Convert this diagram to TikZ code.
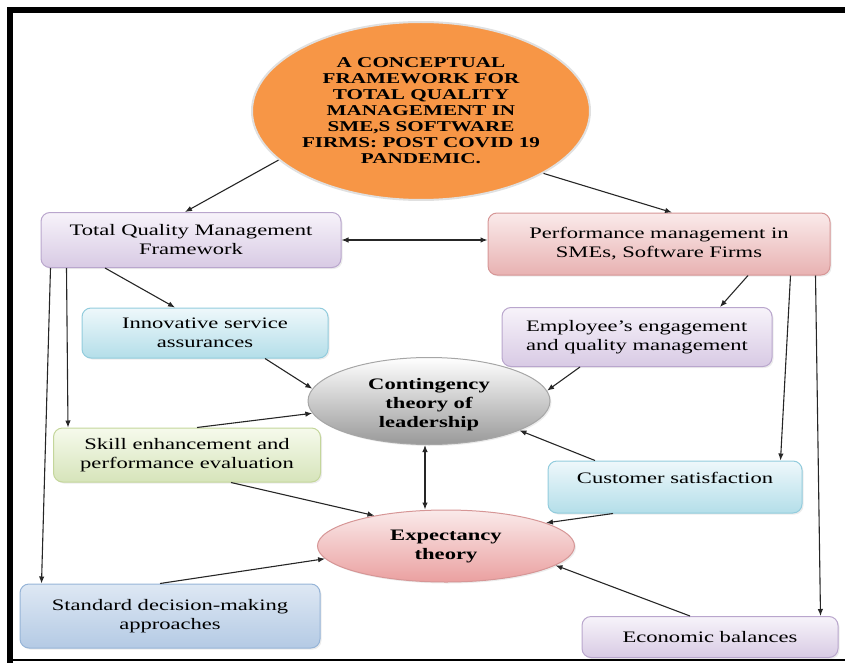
\documentclass[tikz,border=0pt]{standalone}
\usepackage{fontspec}
\setmainfont{Liberation Serif}[FakeStretch=1.41]
\usetikzlibrary{shapes.geometric,arrows.meta,shadows}
\definecolor{lavtop}{RGB}{247,243,250}
\definecolor{lavbot}{RGB}{216,202,228}
\definecolor{lavdraw}{RGB}{185,166,205}
\definecolor{pinktop}{RGB}{250,234,234}
\definecolor{pinkbot}{RGB}{232,178,178}
\definecolor{pinkdraw}{RGB}{214,150,150}
\definecolor{cyantop}{RGB}{238,248,251}
\definecolor{cyanbot}{RGB}{180,222,233}
\definecolor{cyandraw}{RGB}{146,204,221}
\definecolor{greentop}{RGB}{246,250,236}
\definecolor{greenbot}{RGB}{214,228,186}
\definecolor{greendraw}{RGB}{196,214,155}
\definecolor{bluetop}{RGB}{222,232,244}
\definecolor{bluebot}{RGB}{180,202,228}
\definecolor{bluedraw}{RGB}{150,180,215}
\definecolor{titleorange}{RGB}{247,150,70}

\begin{document}
\begin{tikzpicture}[x=1pt,y=-1pt,
  box/.style={rounded corners=9pt, line width=1pt, align=center, inner sep=2pt,
    font=\fontsize{16}{19}\selectfont,
    drop shadow={opacity=0.15,shadow xshift=1.5pt,shadow yshift=-1.5pt}},
  lav/.style={box, draw=lavdraw, top color=lavtop, bottom color=lavbot},
  pinkbox/.style={box, draw=pinkdraw, top color=pinktop, bottom color=pinkbot},
  cyanbox/.style={box, draw=cyandraw, top color=cyantop, bottom color=cyanbot},
  greenbox/.style={box, draw=greendraw, top color=greentop, bottom color=greenbot},
  bluebox/.style={box, draw=bluedraw, top color=bluetop, bottom color=bluebot},
  oval/.style={ellipse, inner sep=0pt, line width=1pt, align=center,
    font=\fontsize{16}{19}\selectfont\bfseries},
  arr/.style={-{Latex[length=7pt,width=5.5pt]}, line width=1.1pt, draw=black!85},
  twoway/.style={arr, {Latex[length=7pt,width=5.5pt]}-{Latex[length=7pt,width=5.5pt]}}]
\useasboundingbox (0,0) rectangle (845,663);

\draw[line width=6pt] (845,10) -- (10,10) -- (10,663);
\draw[line width=2pt] (10,660) -- (845,660);

\node[oval, draw=black!12, line width=2pt, fill=titleorange, minimum width=338, minimum height=178,
  font=\fontsize{15}{16}\selectfont\bfseries] (title) at (421,111)
  {A CONCEPTUAL\\FRAMEWORK FOR\\TOTAL QUALITY\\MANAGEMENT IN\\SME,S SOFTWARE\\FIRMS: POST COVID 19\\PANDEMIC.};

\node[lav, minimum width=300, minimum height=55] (tqm) at (191,240) {Total Quality Management\\Framework};
\node[pinkbox, minimum width=342, minimum height=62] (perf) at (659,244) {Performance management in\\SMEs, Software Firms};
\node[cyanbox, minimum width=246, minimum height=50] (innov) at (205,333) {Innovative service\\assurances};
\node[lav, align=left, minimum width=270, minimum height=59] (empl) at (637,337) {Employee's engagement\\and quality management};
\node[greenbox, minimum width=267, minimum height=54] (skill) at (187,455) {Skill enhancement and\\performance evaluation};
\node[cyanbox, minimum width=254, minimum height=52] (cust) at (675,487) {Customer satisfaction\\\mbox{}};
\node[bluebox, minimum width=300, minimum height=64] (std) at (170,616) {Standard decision-making\\approaches};
\node[lav, minimum width=256, minimum height=41] (econ) at (710,637) {Economic balances};

\node[oval, draw=black!35, top color=white, bottom color=black!40, minimum width=242, minimum height=87,
  drop shadow={opacity=0.15,shadow xshift=1.5pt,shadow yshift=-1.5pt}] (cont) at (429,401)
  {\rule{0pt}{18pt}Contingency\\theory of\\leadership};
\node[oval, draw=pinkdraw, top color=pinktop, bottom color=pinkbot!90!red, minimum width=257, minimum height=72,
  drop shadow={opacity=0.15,shadow xshift=1.5pt,shadow yshift=-1.5pt}] (expt) at (446,546)
  {Expectancy\\theory};

\draw[arr] (title.199) -- ([xshift=-6]tqm.north);
\draw[arr] (title.333) -- ([xshift=13]perf.north);
\draw[twoway] (tqm.east) -- (tqm.east -| perf.west);
\draw[arr] ([xshift=-86]tqm.south) -- ([xshift=-30]innov.north);
\draw[arr] ([xshift=10]tqm.south west) -- ([xshift=22]std.north west);
\draw[arr] ([xshift=26]tqm.south west) -- ([xshift=15]skill.north west);
\draw[arr] ([xshift=89]perf.south) -- ([xshift=83]empl.north);
\draw[arr] ([xshift=-40]perf.south east) -- ([xshift=-22]cust.north east);
\draw[arr] ([xshift=-15]perf.south east) -- ([xshift=-18]econ.north east);
\draw[arr] ([xshift=60]innov.south) -- (cont.174);
\draw[arr] ([xshift=10]skill.north) -- (cont.186);
\draw[arr] ([xshift=-57]empl.south) -- (cont.5);
\draw[arr] ([xshift=-80]cust.north) -- (cont.342);
\draw[twoway] ([xshift=-4]cont.south) -- ([xshift=-4]cont.south |- expt.north);
\draw[arr] ([xshift=44]skill.south) -- (expt.157);
\draw[arr] ([xshift=-62]cust.south) -- (expt.13);
\draw[arr] ([xshift=-10]std.north) -- (expt.186);
\draw[arr] ([xshift=-20]econ.north) -- (expt.350);
\end{tikzpicture}
\end{document}
